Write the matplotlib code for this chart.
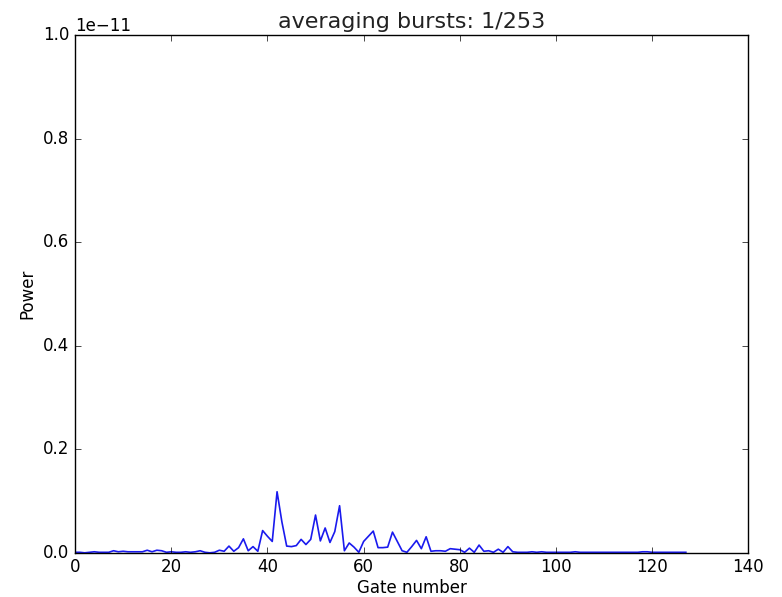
import numpy as np
import matplotlib
matplotlib.use("Agg")
import matplotlib.pyplot as plt

# averaged power per range gate, in units of 1e-11
gates = np.arange(128)
power_e11 = [
    0.001, 0.001, 0.000, 0.001, 0.002, 0.001, 0.001, 0.001,
    0.004, 0.002, 0.003, 0.002, 0.002, 0.002, 0.002, 0.005,
    0.002, 0.005, 0.004, 0.001, 0.002, 0.001, 0.001, 0.002,
    0.001, 0.002, 0.004, 0.001, 0.000, 0.001, 0.005, 0.003,
    0.013, 0.003, 0.010, 0.027, 0.004, 0.012, 0.003, 0.043,
    0.032, 0.022, 0.118, 0.060, 0.013, 0.012, 0.014, 0.026,
    0.016, 0.026, 0.073, 0.023, 0.048, 0.020, 0.041, 0.091,
    0.004, 0.019, 0.011, 0.001, 0.022, 0.032, 0.042, 0.010,
    0.010, 0.011, 0.040, 0.022, 0.004, 0.001, 0.012, 0.024,
    0.008, 0.031, 0.003, 0.004, 0.004, 0.003, 0.008, 0.007,
    0.006, 0.001, 0.009, 0.001, 0.015, 0.003, 0.004, 0.001,
    0.007, 0.001, 0.012, 0.002, 0.001, 0.001, 0.001, 0.002,
    0.001, 0.002, 0.001, 0.001, 0.001, 0.001, 0.001, 0.001,
    0.002, 0.001, 0.001, 0.001, 0.001, 0.001, 0.001, 0.001,
    0.001, 0.001, 0.001, 0.001, 0.001, 0.001, 0.002, 0.002,
    0.001, 0.001, 0.001, 0.001, 0.001, 0.001, 0.001, 0.001,
]
power = np.array(power_e11) * 1e-11

plt.style.use("classic")
fig = plt.figure(figsize=(7.82, 5.97), dpi=100, facecolor="white")
ax = fig.add_axes([0.096, 0.074, 0.861, 0.867])

ax.plot(gates, power, color="#1a1aee", linewidth=1.2)
ax.set_xlim(0, 140)
ax.set_ylim(0, 1e-11)
ax.set_title("averaging bursts: 1/253", fontsize=16, color="#222222")
ax.set_xlabel("Gate number", fontsize=12, labelpad=2)
ax.set_ylabel("Power", fontsize=12)

fig.savefig("out.png", dpi=100, facecolor="white")
